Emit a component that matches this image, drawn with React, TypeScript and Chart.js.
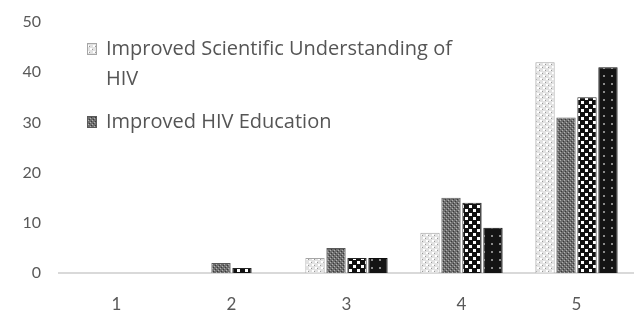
import React, { useEffect, useRef } from "react";
import { Chart, registerables } from "chart.js";

Chart.register(...registerables);

const categories = ["1", "2", "3", "4", "5"];
const scientificUnderstanding = [0, 0, 3, 8, 42];
const hivEducation = [0, 2, 5, 15, 31];
const series3 = [0, 1, 3, 14, 35];
const series4 = [0, 0, 3, 9, 41];
const seriesLabels = [
  "Improved Scientific Understanding of HIV",
  "Improved HIV Education",
  "Series 3",
  "Series 4",
];
const legendShown = [0, 1];
const yMax = 50;
const yStep = 10;

function makePattern(size: number, draw: (c: CanvasRenderingContext2D) => void) {
  const cv = document.createElement("canvas");
  cv.width = size;
  cv.height = size;
  const c = cv.getContext("2d")!;
  draw(c);
  const p = c.createPattern(cv, "repeat");
  return p as CanvasPattern;
}

function buildPatterns() {
  const p1 = makePattern(6, (c) => {
    c.fillStyle = "#e2e2e2";
    c.fillRect(0, 0, 6, 6);
    c.fillStyle = "#ffffff";
    c.fillRect(0, 0, 2, 2);
    c.fillRect(3, 3, 2, 2);
    c.fillStyle = "#9a9a9a";
    c.fillRect(2, 1, 1, 1);
    c.fillRect(5, 4, 1, 1);
  });
  const p2 = makePattern(4, (c) => {
    c.fillStyle = "#6e6e6e";
    c.fillRect(0, 0, 4, 4);
    c.fillStyle = "#b0b0b0";
    c.fillRect(0, 0, 1, 1);
    c.fillRect(2, 2, 1, 1);
    c.fillStyle = "#3a3a3a";
    c.fillRect(1, 3, 1, 1);
    c.fillRect(3, 1, 1, 1);
  });
  const p3 = makePattern(8, (c) => {
    c.fillStyle = "#111111";
    c.fillRect(0, 0, 8, 8);
    c.fillStyle = "#ffffff";
    c.fillRect(1, 1, 3, 3);
    c.fillRect(5, 5, 3, 3);
  });
  const p4 = makePattern(8, (c) => {
    c.fillStyle = "#141414";
    c.fillRect(0, 0, 8, 8);
    c.fillStyle = "#8a8a8a";
    c.fillRect(3, 3, 2, 2);
  });
  return [p1, p2, p3, p4];
}

const borderColors = ["#a6a6a6", "#595959", "#262626", "#0d0d0d"];

function wrapText(ctx: CanvasRenderingContext2D, text: string, maxW: number) {
  const words = text.split(" ");
  const lines: string[] = [];
  let cur = "";
  for (const w of words) {
    const t = cur ? cur + " " + w : w;
    if (ctx.measureText(t).width > maxW && cur) {
      lines.push(cur);
      cur = w;
    } else cur = t;
  }
  if (cur) lines.push(cur);
  return lines;
}

const insideLegend = {
  id: "insideLegend",
  afterDraw(chart: any) {
    const ctx: CanvasRenderingContext2D = chart.ctx;
    const area = chart.chartArea;
    ctx.save();
    ctx.font = '20px "Open Sans"';
    ctx.textBaseline = "middle";
    const x0 = area.left + 28;
    let y = area.top + 27;
    legendShown.forEach((i) => {
      const ds = chart.data.datasets[i];
      ctx.fillStyle = ds.backgroundColor;
      ctx.fillRect(x0, y - 6, 10, 12);
      ctx.strokeStyle = borderColors[i];
      ctx.lineWidth = 1;
      ctx.strokeRect(x0 + 0.5, y - 5.5, 9, 11);
      ctx.fillStyle = "#555555";
      const lines = wrapText(ctx, ds.label, 365);
      lines.forEach((ln, k) => ctx.fillText(ln, x0 + 19, y + k * 30));
      y += (lines.length - 1) * 30 + 43;
    });
    ctx.restore();
  },
};

export default function App() {
  const ref = useRef<HTMLCanvasElement>(null);
  useEffect(() => {
    document.body.style.margin = "0";
    const patterns = buildPatterns();
    const values = [scientificUnderstanding, hivEducation, series3, series4];
    const chart = new Chart(ref.current!, {
      type: "bar",
      data: {
        labels: categories,
        datasets: values.map((v, i) => ({
          label: seriesLabels[i],
          data: v,
          backgroundColor: patterns[i] as any,
          borderColor: borderColors[i],
          borderWidth: (c: any) => (c.raw === 0 ? 0 : 1),
          categoryPercentage: 0.73,
          barPercentage: 0.92,
        })),
      },
      options: {
        animation: false,
        responsive: false,
        maintainAspectRatio: false,
        layout: { padding: { top: 22, right: 0, left: 0, bottom: 0 } },
        plugins: { legend: { display: false }, tooltip: { enabled: false } },
        scales: {
          x: {
            grid: { display: false, drawTicks: false },
            border: { display: true, color: "#d9d9d9", width: 2 },
            ticks: { color: "#595959", font: { family: "Lato", size: 17 }, padding: 21 },
            afterFit: (s: any) => {
              s.height = 38;
            },
          },
          y: {
            min: 0,
            max: yMax,
            grid: { display: false, drawTicks: false },
            border: { display: false },
            ticks: { stepSize: yStep, color: "#595959", font: { family: "Lato", size: 16 }, padding: 18 },
            afterFit: (s: any) => {
              s.width = 59;
              s.paddingTop = 0;
              s.paddingBottom = 0;
            },
          },
        },
      },
      plugins: [insideLegend],
    });
    return () => chart.destroy();
  }, []);
  return (
    <div style={{ position: "fixed", left: 0, top: 0, width: 634, height: 311, background: "#fff" }}>
      <canvas ref={ref} width={634} height={311} style={{ display: "block" }} />
    </div>
  );
}
